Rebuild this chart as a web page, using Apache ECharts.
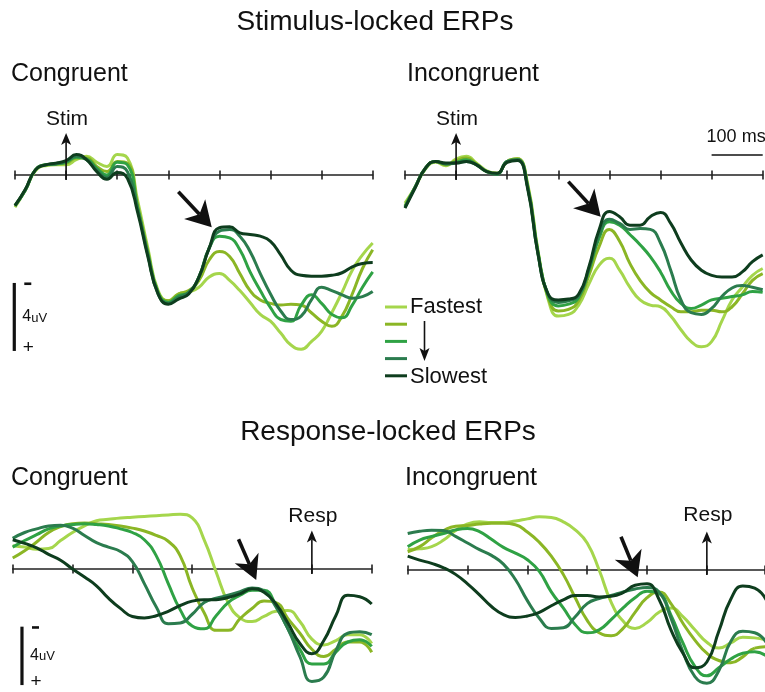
<!DOCTYPE html>
<html>
<head>
<meta charset="utf-8">
<script src="https://cdn.jsdelivr.net/npm/echarts@6/dist/echarts.min.js"></script>
<style>
  html, body { margin: 0; padding: 0; background: #ffffff; }
  #chart { width: 765px; height: 692px; }
</style>
</head>
<body>
<div id="chart"></div>
<script>
// ---- sample times (ms) ----
const stimTimes = [-100, -80, -60, -40, -20, 0, 20, 40, 60, 80, 100, 120, 140, 160, 180, 200, 220, 240,
  260, 280, 300, 320, 340, 360, 380, 400, 420, 440, 460, 480, 500, 520, 540, 560, 580, 600];
const respTimes = [-500, -480, -460, -440, -420, -400, -380, -360, -340, -320, -300, -280, -260, -240,
  -220, -200, -180, -160, -140, -120, -100, -80, -60, -40, -20, 0, 20, 40, 60, 80, 100];

// ---- RT bins, fastest to slowest ----
const binNames = ['Fastest', 'Bin 2', 'Bin 3', 'Bin 4', 'Slowest'];
const binColors = ['#a5d64c', '#8bb625', '#2fa244', '#2b7c4e', '#0e3d1e'];

// ---- stimulus-locked, congruent (uV) ----
const stimCongFastest = [1.9, 0.9, -0.25, -0.55, -0.6, -0.6, -0.9, -1.1, -0.75, -0.5, -1.2, -1.0,
  1.5, 4.3, 6.8, 7.4, 7.0, 6.9, 6.6, 6.0, 5.8, 6.2, 6.8, 7.5, 8.2, 8.6, 9.3, 10.0, 10.25, 9.8, 9.2, 8.1, 6.9, 5.6, 4.7, 4.0];
const stimCongBin2 = [1.8, 0.9, -0.3, -0.6, -0.65, -0.7, -1.0, -1.0, -0.5, -0.2, -0.8, -0.7,
  1.8, 4.5, 6.9, 7.4, 7.0, 6.8, 6.2, 5.0, 4.5, 4.8, 5.8, 6.8, 7.35, 7.55, 7.65, 7.6, 7.65, 8.1, 8.6, 8.9, 8.3, 7.0, 5.5, 4.4];
const stimCongBin3 = [1.8, 0.9, -0.3, -0.6, -0.65, -0.75, -1.05, -0.95, -0.4, 0.0, -0.75, -0.6,
  1.9, 4.6, 6.9, 7.5, 7.1, 6.9, 6.0, 4.3, 3.6, 3.7, 4.4, 5.7, 6.8, 7.8, 8.5, 8.6, 7.65, 7.05, 7.55, 8.2, 8.4, 7.65, 6.6, 5.7];
const stimCongBin4 = [1.8, 0.9, -0.3, -0.6, -0.65, -0.8, -1.1, -0.9, -0.3, 0.15, -0.5, -0.2,
  2.0, 4.7, 7.0, 7.55, 7.2, 6.9, 6.0, 4.3, 3.3, 3.2, 3.6, 4.5, 5.8, 7.0, 8.0, 8.5, 8.3, 7.35, 6.6, 6.8, 7.05, 7.25, 7.15, 6.85];
const stimCongSlowest = [1.8, 0.85, -0.3, -0.6, -0.7, -0.85, -1.2, -0.9, -0.2, 0.25, -0.15, 0.2,
  2.2, 4.8, 7.0, 7.6, 7.3, 7.0, 6.0, 4.3, 3.1, 3.05, 3.4, 3.5, 3.6, 3.9, 4.7, 5.6, 5.9, 5.95, 5.95, 5.9, 5.75, 5.4, 5.2, 5.15];

// ---- stimulus-locked, incongruent (uV) ----
const stimIncongFastest = [1.65, 0.7, -0.35, -0.75, -0.55, -0.95, -1.1, -0.7, -0.25, -0.1, -0.8, -0.95,
  0.5, 4.4, 7.3, 8.3, 8.2, 7.65, 6.4, 5.3, 4.9, 5.6, 6.6, 7.35, 7.65, 7.75, 8.3, 9.1, 9.8, 10.1, 9.8, 8.6, 7.35, 6.6, 5.9, 5.5];
const stimIncongBin2 = [1.8, 0.7, -0.4, -0.8, -0.6, -0.85, -1.0, -0.65, -0.2, -0.1, -0.8, -0.95,
  0.6, 4.5, 7.2, 8.0, 7.9, 7.4, 5.9, 4.2, 3.2, 3.9, 5.2, 6.2, 6.9, 7.35, 7.75, 8.05, 8.05, 7.95, 7.95, 8.05, 7.75, 7.0, 6.2, 5.8];
const stimIncongBin3 = [1.85, 0.7, -0.4, -0.8, -0.65, -0.75, -0.9, -0.6, -0.2, -0.05, -0.8, -0.9,
  0.7, 4.5, 7.1, 7.7, 7.6, 7.2, 5.6, 3.7, 2.75, 2.95, 3.5, 4.1, 4.8, 5.7, 6.8, 7.55, 7.85, 7.65, 7.35, 7.25, 7.15, 7.05, 6.85, 6.9];
const stimIncongBin4 = [1.9, 0.7, -0.4, -0.8, -0.65, -0.7, -0.8, -0.6, -0.2, -0.05, -0.8, -0.9,
  0.7, 4.6, 7.0, 7.5, 7.4, 7.1, 5.5, 3.5, 2.6, 2.85, 3.2, 3.15, 3.2, 4.0, 5.6, 7.35, 8.1, 8.2, 7.85, 7.15, 6.65, 6.5, 6.6, 6.75];
const stimIncongSlowest = [1.95, 0.75, -0.4, -0.8, -0.7, -0.7, -0.8, -0.6, -0.2, -0.1, -0.75, -0.85,
  0.8, 4.6, 7.0, 7.35, 7.3, 7.0, 5.4, 3.2, 2.15, 2.45, 2.95, 2.95, 2.45, 2.2, 2.85, 4.0, 5.0, 5.6, 5.9, 6.0, 6.0, 5.7, 5.1, 4.7];

// ---- response-locked, congruent (uV) ----
const respCongFastest = [-1.6, -1.5, -1.35, -1.4, -1.95, -2.5, -2.95, -3.3, -3.4, -3.5, -3.55, -3.6, -3.65, -3.7, -3.75,
  -3.5, -2.0, 0.2, 2.3, 3.35, 3.6, 3.25, 2.9, 2.85, 3.6, 4.8, 5.2, 4.9, 4.5, 4.5, 5.1];
const respCongBin2 = [-0.75, -1.25, -1.85, -2.5, -2.9, -3.1, -3.15, -3.1, -3.05, -2.95, -2.8, -2.6, -2.3, -1.9, -0.9,
  1.3, 3.0, 4.2, 4.2, 3.4, 2.7, 2.2, 2.3, 3.4, 4.4, 5.5, 6.0, 5.5, 5.0, 5.0, 5.7];
const respCongBin3 = [-1.5, -1.95, -2.35, -2.75, -2.95, -3.05, -3.1, -3.05, -2.95, -2.75, -2.5, -2.0, -0.9, 1.0, 2.8,
  3.9, 4.1, 3.2, 2.3, 1.8, 1.45, 1.45, 2.5, 4.1, 5.5, 6.5, 6.5, 5.7, 5.0, 4.85, 5.3];
const respCongBin4 = [-2.1, -2.5, -2.75, -2.95, -3.0, -2.8, -2.3, -1.8, -1.5, -1.2, -0.5, 1.0, 2.6, 3.75, 3.7,
  3.1, 2.3, 2.0, 1.8, 1.55, 1.3, 1.5, 2.6, 4.1, 6.0, 7.7, 7.4, 5.6, 4.4, 4.3, 4.5];
const respCongSlowest = [-2.0, -1.75, -1.45, -1.0, -0.6, 0.0, 0.55, 1.15, 2.0, 2.7, 3.25, 3.35, 3.2, 2.9, 2.5,
  2.2, 2.1, 2.1, 1.95, 1.7, 1.35, 1.6, 2.4, 3.7, 5.1, 5.8, 4.9, 3.2, 1.8, 1.9, 2.4];

// ---- response-locked, incongruent (uV) ----
const respIncongFastest = [-1.4, -1.45, -1.6, -2.05, -2.7, -3.15, -3.3, -3.25, -3.25, -3.35, -3.5, -3.65, -3.6, -3.3, -2.75,
  -1.85, 0.0, 2.2, 3.5, 4.0, 3.6, 2.9, 2.6, 3.2, 4.1, 4.95, 5.35, 5.0, 4.6, 4.65, 4.8];
const respIncongBin2 = [-1.25, -1.6, -2.2, -2.7, -3.0, -3.05, -3.15, -3.2, -3.2, -3.1, -2.6, -1.9, -0.95, 0.3, 1.9,
  3.45, 4.3, 4.5, 4.0, 2.9, 1.9, 1.5, 2.3, 3.65, 4.8, 5.7, 6.2, 6.35, 5.95, 5.35, 5.25];
const respIncongBin3 = [-1.6, -2.05, -2.3, -2.5, -2.75, -2.85, -2.63, -2.1, -1.55, -1.15, -0.7, 0.1, 1.5, 2.6, 3.75,
  4.3, 4.1, 3.4, 2.6, 1.9, 1.45, 1.6, 3.1, 5.0, 6.6, 7.25, 6.7, 6.1, 5.7, 5.6, 5.9];
const respIncongBin4 = [-2.5, -2.65, -2.72, -2.7, -2.3, -1.85, -1.4, -1.0, -0.4, 0.65, 2.1, 3.3, 4.0, 3.95, 3.2,
  2.3, 1.95, 1.75, 1.5, 1.3, 1.2, 1.5, 3.3, 5.6, 7.3, 7.75, 6.9, 4.9, 4.2, 4.3, 5.0];
const respIncongSlowest = [-0.95, -0.68, -0.45, -0.15, 0.3, 0.95, 1.7, 2.5, 3.05, 3.25, 3.15, 2.9, 2.45, 2.05, 1.75,
  1.75, 1.85, 1.8, 1.55, 1.05, 0.95, 2.0, 4.1, 5.7, 6.7, 6.3, 4.2, 2.0, 1.1, 1.25, 2.1];

const stimCong = [stimCongFastest, stimCongBin2, stimCongBin3, stimCongBin4, stimCongSlowest];
const stimIncong = [stimIncongFastest, stimIncongBin2, stimIncongBin3, stimIncongBin4, stimIncongSlowest];
const respCong = [respCongFastest, respCongBin2, respCongBin3, respCongBin4, respCongSlowest];
const respIncong = [respIncongFastest, respIncongBin2, respIncongBin3, respIncongBin4, respIncongSlowest];

// ---- layout of the four panels (pixels); every grid stays inside the canvas ----
const panels = [
  { times: stimTimes, bins: stimCong,   left: 15,    top: 124,   width: 357.7, height: 238,    xMin: -100, xMax: 600,  yMin: -3, yMax: 11 },
  { times: stimTimes, bins: stimIncong, left: 405,   top: 124,   width: 357.7, height: 238,    xMin: -100, xMax: 600,  yMin: -3, yMax: 11 },
  { times: respTimes, bins: respCong,   left: 12.7,  top: 510.6, width: 359,   height: 181.04, xMin: -500, xMax: 100,  yMin: -4, yMax: 8.4 },
  { times: respTimes, bins: respIncong, left: 407.7, top: 511.6, width: 357.3, height: 180.0,  xMin: -500, xMax: 97.2, yMin: -4, yMax: 8.33 }
];

const FONT = '"Liberation Sans", Arial, Helvetica, sans-serif';
const INK = '#111111';
const AXIS = '#222222';

const grid = [], xAxis = [], yAxis = [], series = [];
panels.forEach((p, i) => {
  grid.push({ left: p.left, top: p.top, width: p.width, height: p.height, containLabel: false });
  // negative voltage plotted upward
  yAxis.push({ gridIndex: i, type: 'value', inverse: true, min: p.yMin, max: p.yMax, show: false });
  const base = {
    gridIndex: i, type: 'value', min: p.xMin, max: p.xMax, interval: 100,
    axisLabel: { show: false }, splitLine: { show: false }
  };
  // tick marks on both sides of the zero line: one axis ticks down, the other ticks up
  xAxis.push(Object.assign({}, base, {
    position: 'bottom',
    axisLine: { show: true, onZero: true, onZeroAxisIndex: i, lineStyle: { color: AXIS, width: 1.6 } },
    axisTick: { show: true, inside: false, length: 4.5, lineStyle: { color: AXIS, width: 1.6 } }
  }));
  xAxis.push(Object.assign({}, base, {
    position: 'top',
    axisLine: { show: false, onZero: true, onZeroAxisIndex: i },
    axisTick: { show: true, inside: false, length: 4.5, lineStyle: { color: AXIS, width: 1.6 } }
  }));
  p.bins.forEach((vals, b) => {
    series.push({
      name: binNames[b], type: 'line', xAxisIndex: 2 * i, yAxisIndex: i,
      data: p.times.map((t, k) => [t, vals[k]]),
      smooth: 0.5, showSymbol: false, silent: true,
      lineStyle: { color: binColors[b], width: 3 },
      itemStyle: { color: binColors[b] },
      z: 2 + b
    });
  });
});

const chart = echarts.init(document.getElementById('chart'), null, { renderer: 'canvas', width: 765, height: 692 });
chart.setOption({
  animation: false,
  backgroundColor: '#ffffff',
  grid, xAxis, yAxis, series
});

// ---- annotations ----
const toPx = (panel, t, v) => chart.convertToPixel({ seriesIndex: panel * 5 }, [t, v]);
const g = [];

function text(str, x, y, size, align) {
  g.push({
    type: 'text', x, y, z: 100, silent: true,
    style: {
      text: str, fill: INK, fontSize: size, fontFamily: FONT,
      align: align || 'left', textAlign: align || 'left',
      verticalAlign: 'middle', textVerticalAlign: 'middle'
    }
  });
}
function seg(x1, y1, x2, y2, w, color) {
  g.push({ type: 'line', z: 100, silent: true, shape: { x1, y1, x2, y2 }, style: { stroke: color || INK, lineWidth: w } });
}
function poly(points) {
  g.push({ type: 'polygon', z: 100, silent: true, shape: { points }, style: { fill: INK } });
}
// upward event marker on the zero line
function eventArrow(panel, topV, label, labelDy) {
  const [x, y0] = toPx(panel, 0, 0);
  const yTop = toPx(panel, 0, topV)[1];
  seg(x, y0 + 5, x, yTop + 9, 1.6);
  poly([[x, yTop], [x - 5, yTop + 12], [x, yTop + 9], [x + 5, yTop + 12]]);
  text(label, x + 1, yTop + labelDy, 21, 'center');
}
// heavy pointer arrow with a notched head
function pointer(panel, t, v, dx, dy, headLen, halfW) {
  const [tx, ty] = toPx(panel, t, v);
  const L = Math.hypot(dx, dy), ux = dx / L, uy = dy / L, nx = -uy, ny = ux;
  const bx = tx - ux * headLen, by = ty - uy * headLen;
  const notch = [bx + ux * 7, by + uy * 7];
  seg(tx - dx, ty - dy, notch[0], notch[1], 3.6);
  poly([[tx, ty], [bx + nx * halfW, by + ny * halfW], notch, [bx - nx * halfW, by - ny * halfW]]);
}
// vertical amplitude bar spanning 4 uV
function ampBar(panel, t, v0) {
  const [x, y1] = toPx(panel, t, v0);
  const y2 = toPx(panel, t, v0 + 4)[1];
  seg(x, y1, x, y2, 3.2);
  g.push({ type: 'rect', z: 100, silent: true, shape: { x: x + 10, y: y1 - 0.5, width: 7, height: 2.6 }, style: { fill: INK } });
  text('4', x + 8, (y1 + y2) / 2, 16, 'left');
  text('uV', x + 17, (y1 + y2) / 2 + 1, 13, 'left');
  text('+', x + 14, y2 - 3, 19, 'center');
}

// titles
text('Stimulus-locked ERPs', 375, 22, 28, 'center');
text('Response-locked ERPs', 388, 432, 28, 'center');
text('Congruent', 11, 74, 25, 'left');
text('Incongruent', 407, 74, 25, 'left');
text('Congruent', 11, 478, 25, 'left');
text('Incongruent', 405, 478, 25, 'left');

// event markers
eventArrow(0, -2.47, 'Stim', -14);
eventArrow(1, -2.47, 'Stim', -14);
eventArrow(2, -2.64, 'Resp', -14);
eventArrow(3, -2.64, 'Resp', -16);

// 100 ms time scale
{
  const [xa, ya] = toPx(1, 500, -1.18);
  const xb = toPx(1, 600, -1.18)[0];
  seg(xa, ya, xb, ya, 1.6);
  text('100 ms', xa - 5, ya - 18, 18, 'left');
}

// pointers at the peak
pointer(0, 285, 3.08, 33.4, 35.6, 25, 14.5);
pointer(1, 283, 2.45, 32.4, 35, 25, 14.5);
pointer(2, -93, 0.75, 17.7, 40.7, 24, 13);
pointer(3, -115.6, 0.5, 16.7, 40.6, 25, 14.5);

// amplitude scale bars
ampBar(0, -101.4, 6.35);
ampBar(2, -484.5, 3.95);

// bin legend
{
  const ys = [307, 324.2, 341.4, 358.6, 375.8];
  ys.forEach((y, b) => seg(385, y, 407, y, 3, binColors[b]));
  text(binNames[0], 410, ys[0], 22, 'left');
  text(binNames[4], 410, ys[4] + 1, 22, 'left');
  seg(424.5, 321, 424.5, 352, 1.6);
  poly([[424.5, 361], [419.5, 348], [424.5, 351], [429.5, 348]]);
}

chart.setOption({ graphic: { elements: g } });
</script>
</body>
</html>
